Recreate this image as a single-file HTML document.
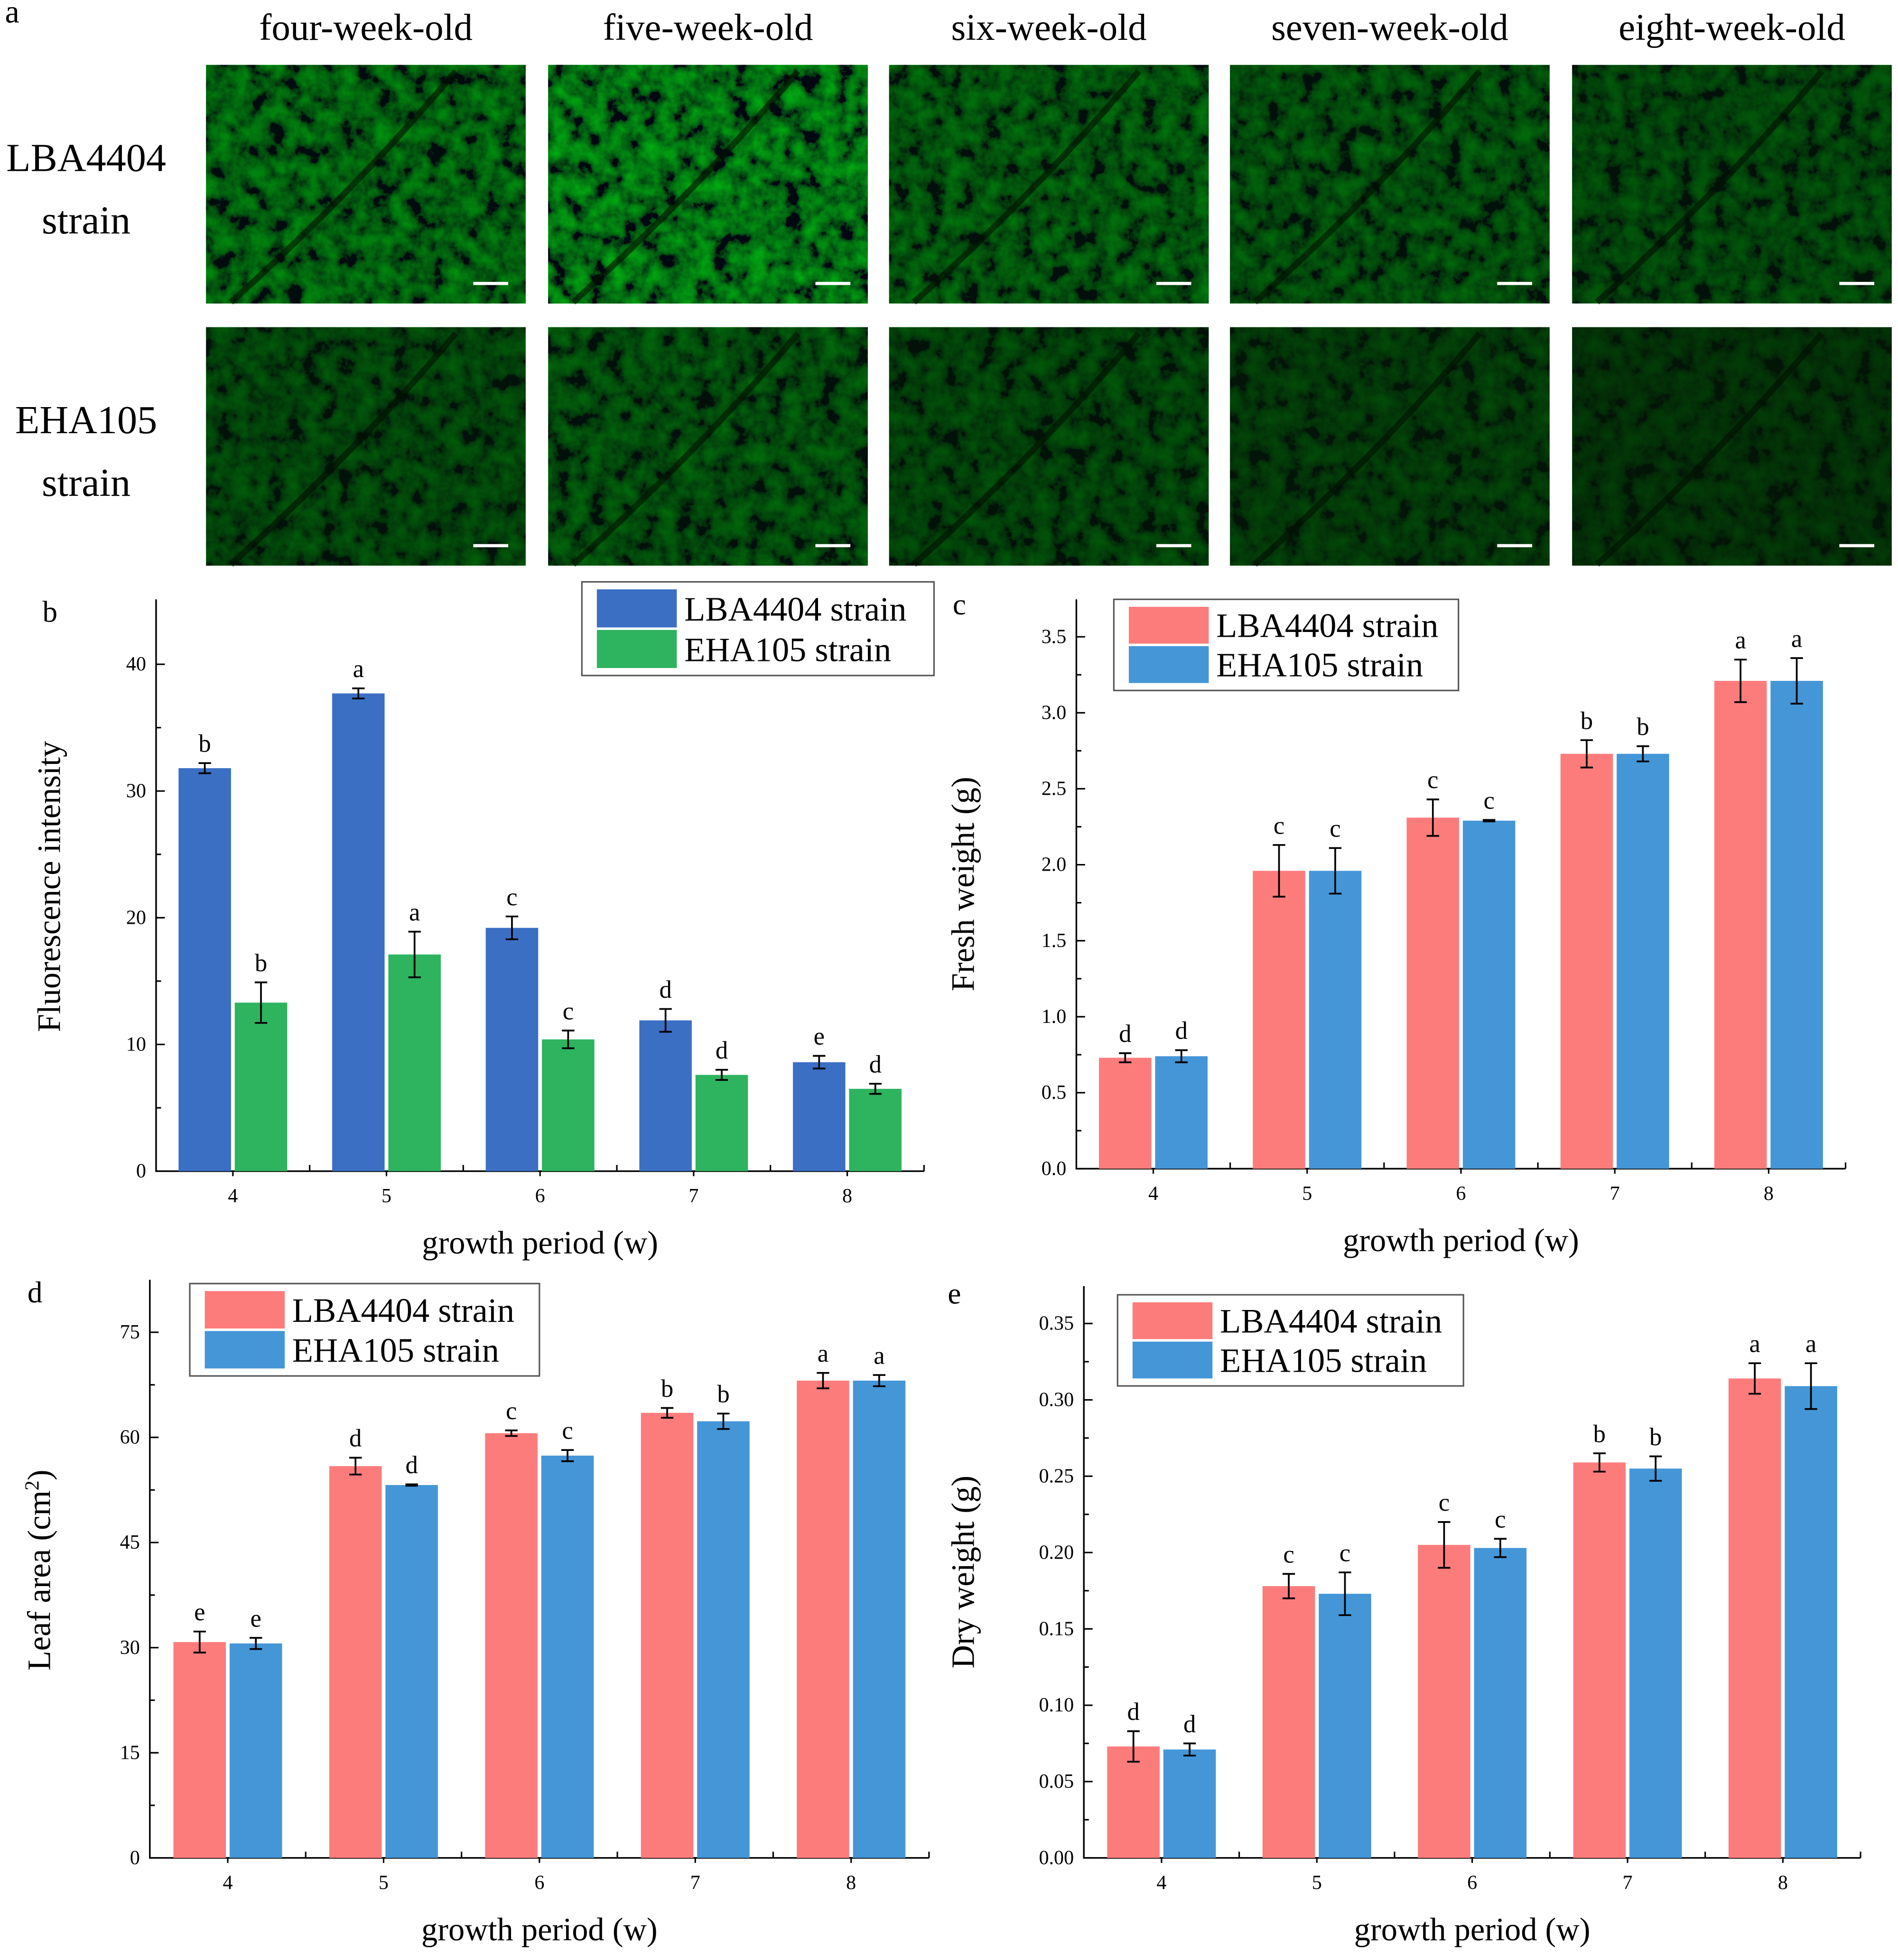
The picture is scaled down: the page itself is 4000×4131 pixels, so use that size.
<!DOCTYPE html>
<html><head><meta charset="utf-8"><style>
html,body{margin:0;padding:0;background:#fff;}
svg{display:block;font-family:"Liberation Serif",serif;}
</style></head><body>
<svg id="fig" width="4000" height="4131" viewBox="0 0 1520 1569.75" xmlns="http://www.w3.org/2000/svg">
<defs>
<filter id="noise" x="0" y="0" width="100%" height="100%">
<feTurbulence type="fractalNoise" baseFrequency="0.07" numOctaves="4" seed="3"/>
<feColorMatrix type="matrix" values="0 0 0 0 0  1.6 0 0 0 -0.48  0 0 0 0 0.01  0 0 0 0 1"/>
</filter>
</defs>
<g id="panelA"></g>
<g id="charts"></g>
</svg>
<script>
const NS="http://www.w3.org/2000/svg";
const svg=document.getElementById('fig');
function mk(tag,attrs,parent,text){const e=document.createElementNS(NS,tag);for(const k in attrs)e.setAttribute(k,attrs[k]);if(text!==undefined)e.textContent=text;(parent||svg).appendChild(e);return e;}

// ---------- Panel a ----------
const pa=document.getElementById('panelA');
const colTitles=["four-week-old","five-week-old","six-week-old","seven-week-old","eight-week-old"];
const colX=[165,439,712,985,1259];
const rowY=[52,262];
const brightness=[[0.52,0.66,0.42,0.36,0.3],[0.3,0.36,0.28,0.22,0.16]];
let t=mk('text',{x:4,y:18,'font-size':26},pa,'a');

colTitles.forEach((c,i)=>{const e=mk('text',{x:colX[i]+128,y:32,'font-size':30,'text-anchor':'middle'},pa,c);
});
[["LBA4404","strain"],["EHA105","strain"]].forEach((r,j)=>{
 const e1=mk('text',{x:69,y:rowY[j]+85,'font-size':32,'text-anchor':'middle'},pa,r[0]);
 
 const e2=mk('text',{x:69,y:rowY[j]+135,'font-size':32,'text-anchor':'middle'},pa,r[1]);
 
});
rowY.forEach((y,j)=>colX.forEach((x,i)=>{
 const g=mk('g',{},pa);
 
 mk('rect',{x:x,y:y,width:256,height:191,fill:'#041a04'},g);
 mk('rect',{x:x,y:y,width:256,height:191,filter:'url(#noise)',opacity:brightness[j][i]},g);
 mk('path',{d:`M${x+20} ${y+190} Q${x+120} ${y+100} ${x+200} ${y+5}`,stroke:'#021002',"stroke-width":5,fill:'none',opacity:0.6},g);
 mk('line',{x1:x+214,x2:x+242,y1:y+175,y2:y+175,stroke:'#fff','stroke-width':2.5},g);
}));

// ---------- Chart data ----------
const categories=["4","5","6","7","8"];
const bSeries1=[31.8,37.7,19.2,11.9,8.6];
const bErr1=[0.4,0.4,0.9,0.9,0.5];
const bSeries2=[13.3,17.1,10.4,7.6,6.5];
const bErr2=[1.6,1.8,0.7,0.4,0.4];
const bLetters1=["b","a","c","d","e"];
const bLetters2=["b","a","c","d","d"];
const bTicks=[0,10,20,30,40];

const cSeries1=[0.73,1.96,2.31,2.73,3.21];
const cErr1=[0.03,0.17,0.12,0.09,0.14];
const cSeries2=[0.74,1.96,2.29,2.73,3.21];
const cErr2=[0.04,0.15,0.005,0.05,0.15];
const cLetters1=["d","c","c","b","a"];
const cLetters2=["d","c","c","b","a"];
const cTicks=[0,0.5,1.0,1.5,2.0,2.5,3.0,3.5];

const dSeries1=[30.8,55.9,60.6,63.5,68.1];
const dErr1=[1.5,1.2,0.4,0.7,1.1];
const dSeries2=[30.6,53.2,57.4,62.3,68.1];
const dErr2=[0.8,0.1,0.8,1.1,0.8];
const dLetters1=["e","d","c","b","a"];
const dLetters2=["e","d","c","b","a"];
const dTicks=[0,15,30,45,60,75];

const eSeries1=[0.073,0.178,0.205,0.259,0.314];
const eErr1=[0.010,0.008,0.015,0.006,0.010];
const eSeries2=[0.071,0.173,0.203,0.255,0.309];
const eErr2=[0.004,0.014,0.006,0.008,0.015];
const eLetters1=["d","c","c","b","a"];
const eLetters2=["d","c","c","b","a"];
const eTicks=[0,0.05,0.10,0.15,0.20,0.25,0.30,0.35];

function chart(o){
 const g=mk('g',{},document.getElementById('charts'));
 
 const {x0,x1,y0,yTop,vTop,axTop}=o;
 const ys=v=>y0-(v/vTop)*(y0-yTop);
 const n=categories.length;const step=(x1-x0)/n;
 const xc=i=>x0+step*(i+0.5);
 const ax=mk('path',{d:`M${x0} ${axTop} V${y0} H${x1}`,stroke:'#000','stroke-width':1.3,fill:'none'},g);
 
 o.ticks.forEach((v,k)=>{
  const y=ys(v);
  mk('line',{x1:x0,x2:x0+7,y1:y,y2:y,stroke:'#000','stroke-width':1.2},g);
  if(k<o.ticks.length-1){const ym=ys((v+o.ticks[k+1])/2);mk('line',{x1:x0,x2:x0+4,y1:ym,y2:ym,stroke:'#000','stroke-width':1.2},g);}
  const tl=mk('text',{x:x0-8,y:y+5,'font-size':16,'text-anchor':'end'},g,o.fmt(v));
  
 });
 categories.forEach((c,i)=>{
  mk('line',{x1:x0+step*(i+1),x2:x0+step*(i+1),y1:y0,y2:y0-5,stroke:'#000','stroke-width':1.2},g);
  mk('line',{x1:xc(i),x2:xc(i),y1:y0,y2:y0+4,stroke:'#000','stroke-width':1.2},g);
  const tl=mk('text',{x:xc(i),y:y0+25,'font-size':16,'text-anchor':'middle'},g,c);
  
 });
 const bw=42,gap=1.5;
 [[o.s1,o.e1,o.l1,o.c1,-1],[o.s2,o.e2,o.l2,o.c2,1]].forEach((sr,si)=>{
  sr[0].forEach((v,i)=>{
   const bx=sr[4]<0?xc(i)-gap-bw:xc(i)+gap;
   const r=mk('rect',{x:bx,y:ys(v),width:bw,height:y0-ys(v),fill:sr[3]},g);
   
   
   const cx=bx+bw/2,yh=ys(v+sr[1][i]),yl=ys(v-sr[1][i]);
   const eb=mk('path',{d:`M${cx} ${yh} V${yl} M${cx-5} ${yh} H${cx+5} M${cx-5} ${yl} H${cx+5}`,stroke:'#000','stroke-width':1.4,fill:'none'},g);
   
   const lt=mk('text',{x:cx,y:yh-9,'font-size':20,'text-anchor':'middle'},g,sr[2][i]);
   
  });
 });
 const xt=mk('text',{x:(x0+x1)/2,y:y0+66,'font-size':26,'text-anchor':'middle'},g,'growth period (w)');
 
 const yt=mk('text',{x:0,y:0,'font-size':26,'text-anchor':'middle',transform:`translate(${o.ytx},${(yTop+y0)/2+o.ytdy}) rotate(-90)`},g);
 
 if(o.sup){yt.appendChild(document.createTextNode('Leaf area (cm'));mk('tspan',{'font-size':16,dy:-9},yt,'2');mk('tspan',{dy:9},yt,')');}
 else yt.textContent=o.ytitle;
 const pl=mk('text',{x:o.plx,y:o.ply,'font-size':24},g,o.letter);
 
 const L=o.leg;
 const lg=mk('g',{},g);
 mk('rect',{x:L[0],y:L[1],width:L[2],height:L[3],fill:'#fff',stroke:'#555','stroke-width':1.2},lg);
 const hh=(L[3]-10)/2;
 [["LBA4404 strain",o.c1],["EHA105 strain",o.c2]].forEach((e,k)=>{
  const en=mk('g',{},lg);
  mk('rect',{x:L[0]+12,y:L[1]+5+k*hh+1,width:64,height:hh-2,fill:e[1]},en);
  mk('text',{x:L[0]+82,y:L[1]+5+k*hh+hh*0.8,'font-size':27.5},en,e[0]);
 });
}
chart({name:'chart-b-fluorescence',x0:125,x1:740,y0:938,yTop:532,vTop:40,axTop:480,ticks:bTicks,fmt:v=>String(v),
 s1:bSeries1,e1:bErr1,l1:bLetters1,s2:bSeries2,e2:bErr2,l2:bLetters2,c1:'#3b6fc4',c2:'#2eb35f',
 ytitle:'Fluorescence intensity',ytx:48,ytdy:-25,letter:'b',plx:34,ply:498,leg:[466,466,282,75]});
chart({name:'chart-c-fresh-weight',x0:862,x1:1478,y0:936,yTop:510,vTop:3.5,axTop:480,ticks:cTicks,fmt:v=>v.toFixed(1),
 s1:cSeries1,e1:cErr1,l1:cLetters1,s2:cSeries2,e2:cErr2,l2:cLetters2,c1:'#fc7c7c',c2:'#4496d7',
 ytitle:'Fresh weight (g)',ytx:780,ytdy:-15,letter:'c',plx:763,ply:492,leg:[892,480,276,73]});
chart({name:'chart-d-leaf-area',x0:120,x1:744,y0:1488,yTop:1067,vTop:75,axTop:1025,ticks:dTicks,fmt:v=>String(v),
 s1:dSeries1,e1:dErr1,l1:dLetters1,s2:dSeries2,e2:dErr2,l2:dLetters2,c1:'#fc7c7c',c2:'#4496d7',
 sup:true,ytx:40,ytdy:-20,letter:'d',plx:22,ply:1043,leg:[152,1028,280,74]});
chart({name:'chart-e-dry-weight',x0:868,x1:1490,y0:1488,yTop:1060,vTop:0.35,axTop:1030,ticks:eTicks,fmt:v=>v.toFixed(2),
 s1:eSeries1,e1:eErr1,l1:eLetters1,s2:eSeries2,e2:eErr2,l2:eLetters2,c1:'#fc7c7c',c2:'#4496d7',
 ytitle:'Dry weight (g)',ytx:780,ytdy:-15,letter:'e',plx:759,ply:1044,leg:[895,1037,277,73]});
</script>
</body></html>
